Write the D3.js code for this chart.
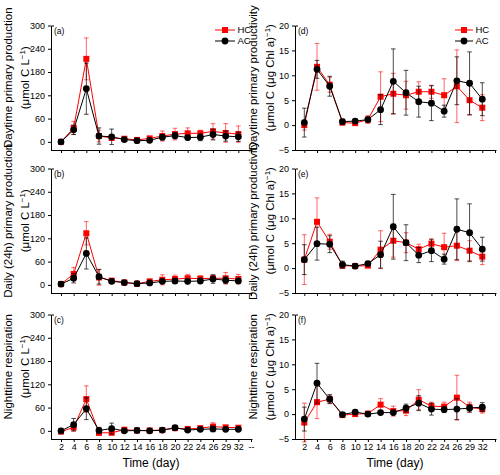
<!DOCTYPE html>
<html>
<head>
<meta charset="utf-8">
<script src="https://cdn.jsdelivr.net/npm/d3@7"></script>
<style>
  body { margin: 0; background: #fff; }
  svg { font-family: "Liberation Sans", Arial, sans-serif; }
</style>
</head>
<body>
<div id="main"><svg width="500" height="475"></svg></div>
<script>
// Sampling days (categorical axis, last slot is an empty "--")
var days = ["2","4","6","8","10","12","14","16","18","20","22","24","26","29","32"];
var xSlots = days.concat(["--"]);

// (a) daytime primary production, umol C L-1
var hcDayProd = [0, 36, 214, 15, 10, 8, 5, 9, 15, 20, 22, 22, 27, 23, 20];
var hcDayProdErr = [2, 17, 54, 15, 6, 4, 3, 4, 13, 15, 14, 8, 20, 24, 21];
var acDayProd = [0, 31, 137, 15, 13, 6, 3, 4, 12, 16, 11, 12, 19, 15, 13];
var acDayProdErr = [2, 12, 66, 21, 20, 3, 2, 3, 7, 8, 6, 9, 14, 13, 12];

// (b) daily (24h) primary production
var hcDailyProd = [2, 28, 133, 19, 11, 6, 3, 9, 13, 15, 17, 16, 17, 17, 15];
var hcDailyProdErr = [2, 17, 30, 20, 4, 3, 2, 4, 13, 10, 10, 7, 8, 15, 12];
var acDailyProd = [2, 17, 81, 21, 9, 6, 3, 5, 9, 10, 9, 10, 15, 12, 10];
var acDailyProdErr = [2, 12, 40, 19, 3, 2, 2, 2, 5, 6, 6, 6, 11, 8, 6];

// (c) nighttime respiration
var hcNightResp = [-2, 9, 82, -5, -5, 3, 1, 1, 2, 7, 5, 7, 11, 9, 8];
var hcNightRespErr = [2, 10, 34, 6, 4, 2, 2, 2, 2, 4, 3, 4, 10, 5, 4];
var acNightResp = [0, 16, 57, 1, 6, 0, 1, 0, 2, 8, 2, 4, 5, 4, 4];
var acNightRespErr = [2, 16, 28, 8, 14, 2, 2, 2, 2, 3, 2, 3, 7, 3, 3];

// (d) daytime primary productivity, umol C (ug Chl a)-1
var hcDayPrd = [0, 11.7, 8.1, 0.5, 0.4, 1.1, 5.7, 6.3, 6.0, 6.7, 6.7, 6.0, 7.8, 5.0, 3.5];
var hcDayPrdErr = [1, 4.7, 1.5, 0.5, 0.4, 0.8, 5, 4.1, 2.8, 2, 1.3, 3.3, 7.3, 3, 2.6];
var acDayPrd = [0.5, 11.2, 7.8, 0.7, 0.8, 1.1, 3.1, 8.8, 6.5, 4.7, 4.4, 2.8, 8.9, 8.4, 5.2];
var acDayPrdErr = [2.9, 1.8, 2, 0.5, 0.4, 0.5, 3, 6.5, 4.5, 3.1, 3.5, 1.2, 4.8, 6.3, 3.3];

// (e) daily (24h) primary productivity
var hcDailyPrd = [1.7, 9.3, 5.3, 0.5, 0.4, 0.5, 3.7, 5.5, 5.1, 3.8, 4.9, 4.2, 4.5, 3.5, 2.3];
var hcDailyPrdErr = [5, 4.8, 1.5, 0.5, 0.3, 0.4, 3.8, 3.3, 2, 1, 1, 2.8, 3, 2, 1.6];
var acDailyPrd = [1.7, 4.9, 4.8, 0.7, 0.4, 0.9, 2.7, 8.3, 5.1, 2.6, 3.5, 1.8, 7.8, 7.1, 3.8];
var acDailyPrdErr = [3, 3.3, 1.7, 0.7, 0.3, 0.4, 2.7, 6.5, 3.6, 1.5, 2.2, 1, 6.1, 5.8, 2.4];

// (f) nighttime respiration per Chl a
var hcNightPrd = [-1.7, 2.4, 3.0, -0.2, 0, 0.1, 1.9, 0.6, 0.7, 2.9, 1.6, 1.5, 3.3, 1.4, 1.0];
var hcNightPrdErr = [3.9, 3.3, 0.8, 0.3, 0.3, 0.3, 1.2, 1, 1, 2, 0.8, 0.9, 4.5, 1, 0.8];
var acNightPrd = [-1.0, 6.2, 3.0, -0.1, 0.4, 0.0, 0.3, 0.3, 1.2, 2.2, 1.0, 0.9, 1.0, 1.2, 1.4];
var acNightPrdErr = [2.4, 4, 0.9, 0.3, 0.4, 0.3, 0.3, 0.4, 0.8, 1.5, 1.2, 0.6, 2.1, 0.8, 0.9];

var leftTicks = [0, 60, 120, 180, 240, 300];
var rightTicks = [-5, 0, 5, 10, 15, 20];

var svg = d3.select("#main").select("svg");
var red = "#ff0000";

// column / row geometry
var cols = [
  {axisX: 51, first: 61, last: 251, domain: [-21, 300], ticks: leftTicks, titleX: 12, unit: "L"},
  {axisX: 295, first: 304.3, last: 495, domain: [-5, 20], ticks: rightTicks, titleX: 257, unit: "Chl"}
];
var rows = [{top: 25.5, bottom: 150}, {top: 168.5, bottom: 293}, {top: 314.5, bottom: 439}];

var panels = [
  {col: 0, row: 0, tag: "(a)", title: "Daytime primary production", hc: hcDayProd, hcE: hcDayProdErr, ac: acDayProd, acE: acDayProdErr, legend: true},
  {col: 0, row: 1, tag: "(b)", title: "Daily (24h) primary production", hc: hcDailyProd, hcE: hcDailyProdErr, ac: acDailyProd, acE: acDailyProdErr},
  {col: 0, row: 2, tag: "(c)", title: "Nighttime respiration", hc: hcNightResp, hcE: hcNightRespErr, ac: acNightResp, acE: acNightRespErr},
  {col: 1, row: 0, tag: "(d)", title: "Daytime primary productivity", hc: hcDayPrd, hcE: hcDayPrdErr, ac: acDayPrd, acE: acDayPrdErr, legend: true},
  {col: 1, row: 1, tag: "(e)", title: "Daily (24h) primary productivity", hc: hcDailyPrd, hcE: hcDailyPrdErr, ac: acDailyPrd, acE: acDailyPrdErr},
  {col: 1, row: 2, tag: "(f)", title: "Nighttime respiration", hc: hcNightPrd, hcE: hcNightPrdErr, ac: acNightPrd, acE: acNightPrdErr}
];

panels.forEach(function(p) {
  var c = cols[p.col], r = rows[p.row];
  var g = svg.append("g");

  var xScale = d3.scalePoint().domain(xSlots).range([c.first, c.last]);
  var yScale = d3.scaleLinear().domain(c.domain).range([r.bottom, r.top]);

  // x axis
  var xAxis = d3.axisBottom(xScale).tickSize(3).tickSizeOuter(0);
  if (p.row < 2) xAxis.tickFormat("");
  var xg = g.append("g").attr("transform", "translate(0," + r.bottom + ")").call(xAxis);
  xg.select(".domain").remove();
  xg.selectAll("text").attr("font-size", 9).attr("dy", "0.6em").attr("fill", "#000");
  if (p.col == 1) xg.selectAll(".tick").filter(function(d) { return d == "--"; }).select("text").remove();
  g.append("line")
    .attr("x1", c.axisX).attr("x2", c.last + 1.5)
    .attr("y1", r.bottom + 0.5).attr("y2", r.bottom + 0.5)
    .attr("stroke", "#000");

  // y axis
  var yAxis = d3.axisLeft(yScale).tickValues(c.ticks).tickSize(3).tickSizeOuter(0);
  var yg = g.append("g").attr("transform", "translate(" + c.axisX + ",0)").call(yAxis);
  yg.select(".domain").remove();
  yg.selectAll("text").attr("font-size", 9).attr("fill", "#000");
  g.append("path")
    .attr("d", "M" + (c.axisX + 3) + "," + (yScale(c.domain[1]) + 0.5) + "H" + (c.axisX + 0.5) + "V" + (r.bottom + 0.5))
    .attr("fill", "none").attr("stroke", "#000");

  // y title (two lines)
  var midY = (r.top + r.bottom) / 2 - 10;
  var t = g.append("text")
    .attr("transform", "translate(" + c.titleX + "," + midY + ") rotate(-90)")
    .attr("text-anchor", "middle").attr("font-size", 11.5);
  t.append("tspan").attr("x", 0).attr("y", 0).text(p.title);
  var t2 = t.append("tspan").attr("x", 0).attr("y", 17);
  if (c.unit == "L") {
    t2.text("(\u03bcmol C L");
  } else {
    t2.text("(\u03bcmol C (\u03bcg Chl a)");
  }
  t2.append("tspan").attr("dy", -4.5).attr("font-size", 8).text("\u22121");
  t2.append("tspan").attr("dy", 4.5).text(")");

  // panel tag
  g.append("text").attr("x", c.axisX + 3).attr("y", r.top + 8)
    .attr("font-size", 8.5).text(p.tag);

  // series
  var series = [
    {vals: p.hc, err: p.hcE, color: red, errColor: "rgba(255,0,0,0.6)", shape: "square"},
    {vals: p.ac, err: p.acE, color: "#000", errColor: "rgba(0,0,0,0.7)", shape: "circle"}
  ];
  series.forEach(function(s) {
    var pts = days.map(function(d, i) { return {day: d, v: s.vals[i], e: s.err[i]}; });
    var eb = g.append("g").selectAll("g").data(pts).enter().append("g")
      .attr("stroke", s.errColor).attr("stroke-width", 1);
    eb.append("line")
      .attr("x1", function(d) { return xScale(d.day); })
      .attr("x2", function(d) { return xScale(d.day); })
      .attr("y1", function(d) { return yScale(d.v - d.e); })
      .attr("y2", function(d) { return yScale(d.v + d.e); });
    [-1, 1].forEach(function(sg) {
      eb.append("line")
        .attr("x1", function(d) { return xScale(d.day) - 2.3; })
        .attr("x2", function(d) { return xScale(d.day) + 2.3; })
        .attr("y1", function(d) { return yScale(d.v + sg * d.e); })
        .attr("y2", function(d) { return yScale(d.v + sg * d.e); });
    });

    var line = d3.line()
      .x(function(d) { return xScale(d.day); })
      .y(function(d) { return yScale(d.v); });
    g.append("path").datum(pts).attr("d", line)
      .attr("fill", "none").attr("stroke", s.color).attr("stroke-width", 1);

    if (s.shape == "square") {
      g.append("g").selectAll("rect").data(pts).enter().append("rect")
        .attr("x", function(d) { return xScale(d.day) - 3; })
        .attr("y", function(d) { return yScale(d.v) - 3; })
        .attr("width", 6).attr("height", 6).attr("fill", s.color);
    } else {
      g.append("g").selectAll("circle").data(pts).enter().append("circle")
        .attr("cx", function(d) { return xScale(d.day); })
        .attr("cy", function(d) { return yScale(d.v); })
        .attr("r", 3.4).attr("fill", s.color);
    }
  });

  // legend
  if (p.legend) {
    var lx = p.col == 0 ? 215 : 455;
    var lw = p.col == 0 ? 20 : 18;
    var items = [{name: "HC", color: red, shape: "square", y: r.top + 4.5}, {name: "AC", color: "#000", shape: "circle", y: r.top + 15.5}];
    items.forEach(function(it) {
      g.append("line").attr("x1", lx).attr("x2", lx + lw)
        .attr("y1", it.y).attr("y2", it.y).attr("stroke", it.color);
      if (it.shape == "square") {
        g.append("rect").attr("x", lx + lw / 2 - 3).attr("y", it.y - 3)
          .attr("width", 6).attr("height", 6).attr("fill", it.color);
      } else {
        g.append("circle").attr("cx", lx + lw / 2).attr("cy", it.y).attr("r", 3.4).attr("fill", it.color);
      }
      g.append("text").attr("x", lx + lw + 2.5).attr("y", it.y + 3.3)
        .attr("font-size", 9.5).text(it.name);
    });
  }

  // x title
  if (p.row == 2) {
    g.append("text").attr("x", (c.axisX + c.last) / 2).attr("y", 467)
      .attr("text-anchor", "middle").attr("font-size", 12).text("Time (day)");
  }
});
</script>
</body>
</html>
